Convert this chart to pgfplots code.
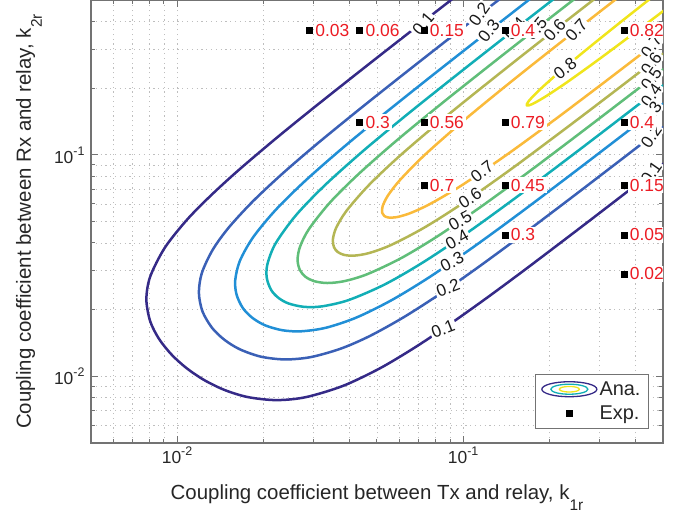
\documentclass[border=0pt]{standalone}
\usepackage{fontspec}
\setmainfont{Liberation Sans}
\usepackage{pgfplots}
\pgfplotsset{compat=1.18}
\definecolor{c1}{RGB}{53,42,135}
\definecolor{c2}{RGB}{58,96,182}
\definecolor{c3}{RGB}{33,143,214}
\definecolor{c4}{RGB}{18,174,182}
\definecolor{c5}{RGB}{96,190,121}
\definecolor{c6}{RGB}{180,182,84}
\definecolor{c7}{RGB}{250,186,58}
\definecolor{c8}{RGB}{240,229,28}
\definecolor{ptred}{RGB}{236,28,36}
\definecolor{axisc}{RGB}{115,115,115}
\definecolor{gridc}{RGB}{190,190,190}
\newcommand{\tsup}[1]{\raisebox{8bp}{\fontsize{12.5}{12.5}\selectfont #1}}
\newcommand{\ksub}[1]{\raisebox{-11bp}{\fontsize{15.5}{15.5}\selectfont #1}}
\tikzset{
 clab/.style={fill=white, inner sep=1.6bp, font=\fontsize{17}{19}\selectfont, text=black!90},
 plab/.style={anchor=west, xshift=4bp, fill=white, inner sep=1.8bp, text=ptred, font=\fontsize{17.5}{19}\selectfont},
}
\begin{document}
\begin{tikzpicture}
\path[use as bounding box] (-91bp,-75bp) rectangle (594bp,443bp);
\begin{axis}[
 at={(0,0)}, anchor=south west,
 scale only axis, width=572bp, height=443bp,
 xmode=log, ymode=log,
 xmin=0.005, xmax=0.5, ymin=0.005, ymax=0.5,
 xtick={0.01,0.1}, ytick={0.01,0.1},
 xticklabels={10\tsup{-2},10\tsup{-1}},
 yticklabels={10\tsup{-2},10\tsup{-1}},
 minor xtick={0.005,0.006,0.007,0.008,0.009,0.02,0.03,0.04,0.05,0.06,0.07,0.08,0.09,0.2,0.3,0.4,0.5},
 minor ytick={0.005,0.006,0.007,0.008,0.009,0.02,0.03,0.04,0.05,0.06,0.07,0.08,0.09,0.2,0.3,0.4,0.5},
 grid=both,
 major grid style={gridc, line width=0.9bp, dash pattern=on 1.2bp off 3.6bp},
 minor grid style={gridc, line width=0.9bp, dash pattern=on 1.2bp off 3.6bp},
 major tick length=7bp, minor tick length=4bp,
 tick style={axisc, line width=1bp},
 axis line style={axisc, line width=1.4bp},
 tick label style={font=\fontsize{17.5}{20}\selectfont, text=black!85},
 yticklabel style={xshift=-3bp},
 label style={font=\fontsize{20.5}{24}\selectfont, text=black!85},
 xlabel={Coupling coefficient between Tx and relay, k\ksub{1r}},
 ylabel={Coupling coefficient between Rx and relay, k\ksub{2r}},
 xlabel style={at={(rel axis cs:0.5,-0.1264)}, anchor=base},
 ylabel style={at={(rel axis cs:-0.1049,0.5)}, anchor=base},
 legend style={at={(rel axis cs:0.9755,0.0316)}, anchor=south east, draw=axisc, line width=1bp, fill=white,
   font=\fontsize{20}{23}\selectfont, text=black!85, inner xsep=6bp, inner ysep=5.5bp, row sep=5bp, cells={anchor=west}},
 legend cell align=left,
 cline/.style={line width=2.5bp, line join=round, smooth},
]
\addlegendimage{legend image code/.code={
  \draw[c1, line width=1.3bp] (30bp,0bp) ellipse [x radius=27.5bp, y radius=7.5bp];
  \draw[c4, line width=1.3bp] (30bp,0bp) ellipse [x radius=18.5bp, y radius=5bp];
  \draw[c8, line width=1.3bp] (30bp,0bp) ellipse [x radius=10bp, y radius=2.8bp];}}
\addlegendentry{Ana.}
\addlegendimage{legend image code/.code={\fill[black] (27bp,-3bp) rectangle (33bp,3bp);}}
\addlegendentry{Exp.}

% eta = 0.1
\addplot[cline, c1, forget plot] coordinates {
(0.1311,0.7232)(0.06435,0.3539)(0.04542,0.2489)(0.03038,0.1650)(0.02226,0.1191)(0.01646,0.08559)(0.01318,0.06587)(0.01083,0.05092)(0.009054,0.03803)(0.008053,0.02819)(0.007811,0.02226)(0.008054,0.01772)(0.008657,0.01472)(0.009596,0.01248)
(0.01084,0.01084)
(0.01248,0.009596)(0.01472,0.008657)(0.01772,0.008054)(0.02226,0.007811)(0.02819,0.008053)(0.03803,0.009054)(0.05092,0.01083)(0.06587,0.01318)(0.08559,0.01646)(0.1191,0.02226)(0.1650,0.03038)(0.2489,0.04542)(0.3539,0.06435)(0.7232,0.1311)};
% eta = 0.2
\addplot[cline, c2, forget plot] coordinates {
(0.1494,0.5619)(0.09586,0.3597)(0.06402,0.2391)(0.04394,0.1626)(0.03087,0.1121)(0.02332,0.08210)(0.01842,0.06170)(0.01518,0.04706)(0.01333,0.03732)(0.01221,0.02931)(0.01192,0.02383)(0.01227,0.01963)(0.01325,0.01656)
(0.01463,0.01463)
(0.01656,0.01325)(0.01963,0.01227)(0.02383,0.01192)(0.02931,0.01221)(0.03732,0.01333)(0.04706,0.01518)(0.06170,0.01842)(0.08210,0.02332)(0.1121,0.03087)(0.1626,0.04394)(0.2391,0.06402)(0.3597,0.09586)(0.5619,0.1494)};
% eta = 0.3
\addplot[cline, c3, forget plot] coordinates {
(0.1876,0.5532)(0.1247,0.3670)(0.07786,0.2277)(0.05212,0.1506)(0.03771,0.1067)(0.02801,0.07618)(0.02210,0.05634)(0.01843,0.04238)(0.01657,0.03315)(0.01597,0.02714)(0.01614,0.02340)(0.01697,0.02036)
(0.01835,0.01835)
(0.02036,0.01697)(0.02340,0.01614)(0.02714,0.01597)(0.03315,0.01657)(0.04238,0.01843)(0.05634,0.02210)(0.07618,0.02801)(0.1067,0.03771)(0.1506,0.05212)(0.2277,0.07786)(0.3670,0.1247)(0.5532,0.1876)};
% eta = 0.4
\addplot[cline, c4, forget plot] coordinates {
(0.2399,0.5847)(0.1570,0.3818)(0.1022,0.2472)(0.06579,0.1572)(0.04522,0.1054)(0.03299,0.07323)(0.02605,0.05339)(0.02209,0.03977)(0.02069,0.03207)(0.02059,0.02780)(0.02133,0.02453)
(0.02261,0.02261)
(0.02453,0.02133)(0.02780,0.02059)(0.03207,0.02069)(0.03977,0.02209)(0.05339,0.02605)(0.07323,0.03299)(0.1054,0.04522)(0.1572,0.06579)(0.2472,0.1022)(0.3818,0.1570)(0.5847,0.2399)};
% eta = 0.5
\addplot[cline, c5, forget plot] coordinates {
(0.2879,0.5937)(0.1942,0.3997)(0.1267,0.2594)(0.08365,0.1694)(0.05836,0.1156)(0.04310,0.08188)(0.03429,0.06104)(0.02894,0.04630)(0.02690,0.03846)(0.02638,0.03350)(0.02690,0.03012)
(0.02813,0.02813)
(0.03012,0.02690)(0.03350,0.02638)(0.03846,0.02690)(0.04630,0.02894)(0.06104,0.03429)(0.08188,0.04310)(0.1156,0.05836)(0.1694,0.08365)(0.2594,0.1267)(0.3997,0.1942)(0.5937,0.2879)};
% eta = 0.6
\addplot[cline, c6, forget plot] coordinates {
(0.3103,0.5446)(0.2044,0.3578)(0.1405,0.2444)(0.08834,0.1511)(0.06079,0.1003)(0.04697,0.07327)(0.03918,0.05602)(0.03599,0.04679)(0.03505,0.04136)(0.03539,0.03822)
(0.03644,0.03644)
(0.03822,0.03539)(0.04136,0.03505)(0.04679,0.03599)(0.05602,0.03918)(0.07327,0.04697)(0.1003,0.06079)(0.1511,0.08834)(0.2444,0.1405)(0.3578,0.2044)(0.5446,0.3103)};
% eta = 0.7
\addplot[cline, c7, forget plot] coordinates {
(0.4908,0.7244)(0.2955,0.4350)(0.2039,0.2988)(0.1410,0.2045)(0.1002,0.1423)(0.07334,0.09974)(0.06028,0.07716)(0.05463,0.06556)(0.05231,0.05858)(0.05213,0.05474)
(0.05301,0.05301)
(0.05474,0.05213)(0.05858,0.05231)(0.06556,0.05463)(0.07716,0.06028)(0.09974,0.07334)(0.1423,0.1002)(0.2045,0.1410)(0.2988,0.2039)(0.4350,0.2955)(0.7244,0.4908)};
% eta = 0.8
\addplot[cline, c8, forget plot] coordinates {
(0.6833,0.7715)(0.4802,0.5403)(0.3536,0.3953)(0.2654,0.2932)(0.2121,0.2302)(0.1836,0.1946)(0.1695,0.1746)
(0.1671,0.1671)
(0.1746,0.1695)(0.1946,0.1836)(0.2302,0.2121)(0.2932,0.2654)(0.3953,0.3536)(0.5403,0.4802)(0.7715,0.6833)};

% contour labels, lower arms
\node[clab, rotate=21] at (axis cs:0.0851,0.0164) {0.1};
\node[clab, rotate=21] at (axis cs:0.0886,0.0250) {0.2};
\node[clab, rotate=27] at (axis cs:0.0915,0.0329) {0.3};
\node[clab, rotate=29] at (axis cs:0.0953,0.0414) {0.4};
\node[clab, rotate=30] at (axis cs:0.0976,0.0503) {0.5};
\node[clab, rotate=33] at (axis cs:0.1058,0.0638) {0.6};
\node[clab, rotate=38] at (axis cs:0.1165,0.0840) {0.7};
% upper arms
\node[clab, rotate=50] at (axis cs:0.0725,0.39) {0.1};
\node[clab, rotate=55] at (axis cs:0.114,0.43) {0.2};
\node[clab, rotate=52] at (axis cs:0.123,0.362) {0.3};
\node[clab, rotate=50] at (axis cs:0.152,0.37) {0.4};
\node[clab, rotate=50] at (axis cs:0.180,0.37) {0.5};
\node[clab, rotate=48] at (axis cs:0.209,0.366) {0.6};
\node[clab, rotate=48] at (axis cs:0.249,0.366) {0.7};
\node[clab, rotate=38] at (axis cs:0.2274,0.246) {0.8};
% right edge
\node[clab, rotate=55] at (axis cs:0.455,0.309) {0.7};
\node[clab, rotate=55] at (axis cs:0.455,0.258) {0.6};
\node[clab, rotate=55] at (axis cs:0.455,0.220) {0.5};
\node[clab, rotate=55] at (axis cs:0.455,0.186) {0.4};
\node[clab, rotate=55] at (axis cs:0.455,0.154) {0.3};
\node[clab, rotate=55] at (axis cs:0.455,0.121) {0.2};
\node[clab, rotate=55] at (axis cs:0.455,0.083) {0.1};

% experimental labels
\node[plab] at (axis cs:0.029,0.365) {0.03};
\node[plab] at (axis cs:0.0435,0.365) {0.06};
\node[plab] at (axis cs:0.073,0.365) {0.15};
\node[plab] at (axis cs:0.14,0.365) {0.4};
\node[plab] at (axis cs:0.365,0.365) {0.82};
\node[plab] at (axis cs:0.0435,0.14) {0.3};
\node[plab] at (axis cs:0.073,0.14) {0.56};
\node[plab] at (axis cs:0.14,0.14) {0.79};
\node[plab] at (axis cs:0.365,0.14) {0.4};
\node[plab] at (axis cs:0.073,0.073) {0.7};
\node[plab] at (axis cs:0.14,0.073) {0.45};
\node[plab] at (axis cs:0.365,0.073) {0.15};
\node[plab] at (axis cs:0.14,0.0435) {0.3};
\node[plab] at (axis cs:0.365,0.0435) {0.05};
\node[plab] at (axis cs:0.365,0.029) {0.02};

\addplot[only marks, mark=square*, mark size=3bp, black, forget plot, line width=0.5bp] coordinates {
(0.029,0.365)(0.0435,0.365)(0.073,0.365)(0.14,0.365)(0.365,0.365)
(0.0435,0.14)(0.073,0.14)(0.14,0.14)(0.365,0.14)
(0.073,0.073)(0.14,0.073)(0.365,0.073)
(0.14,0.0435)(0.365,0.0435)(0.365,0.029)};
\end{axis}
\end{tikzpicture}
\end{document}
